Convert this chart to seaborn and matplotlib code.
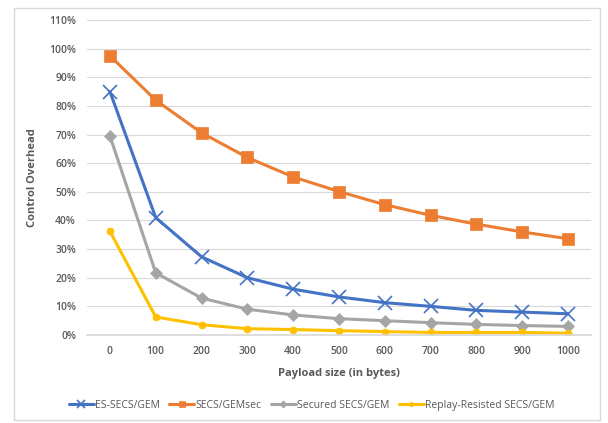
import matplotlib
matplotlib.use("Agg")
import matplotlib.pyplot as plt
import seaborn as sns
import pandas as pd
from matplotlib.patches import Rectangle
from matplotlib.ticker import PercentFormatter

payload = [0, 100, 200, 300, 400, 500, 600, 700, 800, 900, 1000]
es_secs = [85.0, 41.0, 27.3, 20.0, 16.0, 13.3, 11.3, 10.0, 8.6, 8.0, 7.4]
secs_gemsec = [97.5, 82.0, 70.6, 62.0, 55.2, 50.1, 45.5, 41.8, 38.7, 36.0, 33.6]
secured = [69.5, 21.7, 12.9, 9.0, 7.0, 5.7, 5.0, 4.3, 3.7, 3.3, 3.0]
replay = [36.2, 6.3, 3.6, 2.2, 1.9, 1.5, 1.2, 0.9, 0.9, 0.9, 0.6]

names = ["ES-SECS/GEM", "SECS/GEMsec", "Secured SECS/GEM", "Replay-Resisted SECS/GEM"]
series = [es_secs, secs_gemsec, secured, replay]
colors = ["#4472C4", "#ED7D31", "#A5A5A5", "#FFC000"]
markers = ["x", "s", "D", "o"]
msizes = [10, 8, 6, 5]

sns.set_theme(style="white")
plt.rcParams['font.family'] = ['Open Sans', 'DejaVu Sans']

fig = plt.figure(figsize=(6.08, 4.23), dpi=100)
fig.patches.append(Rectangle((14/608, 1 - 420/423), 586/608, 412/423,
                             transform=fig.transFigure, fill=False,
                             edgecolor="#D9D9D9", linewidth=1.0))
ax = fig.add_axes([87/608, 1 - 335/423, (591 - 87)/608, (335 - 20)/423])

for name, vals, c, m, ms in zip(names, series, colors, markers, msizes):
    df = pd.DataFrame({"payload": payload, "overhead": vals})
    sns.lineplot(data=df, x="payload", y="overhead", ax=ax, color=c, marker=m,
                 markersize=ms, linewidth=2.2, label=name,
                 markeredgecolor=c, markeredgewidth=1.2 if m == "x" else 0.5)

ax.set_xlim(-50, 1050)
ax.set_ylim(0, 110)
ax.set_yticks(range(0, 111, 10))
ax.yaxis.set_major_formatter(PercentFormatter(decimals=0))
ax.set_xticks(payload)
ax.set_xticklabels([str(p) for p in payload])
ax.grid(axis="y", color="#D9D9D9", linewidth=0.8)
ax.set_axisbelow(True)
for s in ["top", "right", "left"]:
    ax.spines[s].set_visible(False)
ax.spines["bottom"].set_color("#D9D9D9")
ax.tick_params(axis="both", length=0, labelsize=7.5, labelcolor="#595959", pad=8)
for lbl in ax.get_xticklabels() + ax.get_yticklabels():
    lbl.set_fontweight("semibold")
ax.set_xlabel("Payload size (in bytes)", fontsize=8, fontweight="bold", color="#595959", labelpad=8)
ax.set_ylabel("Control Overhead", fontsize=8, fontweight="bold", color="#595959", labelpad=8)

handles, labels = ax.get_legend_handles_labels()
ax.legend(handles, labels, loc="center",
          bbox_to_anchor=((311.5 - 87) / 504, (335 - 405) / 315),
          ncol=4, frameon=False, fontsize=7.5, handlelength=2.4, handletextpad=0.1,
          columnspacing=0.9, labelcolor="#595959", markerscale=0.6)

fig.savefig("out.png", dpi=100)
